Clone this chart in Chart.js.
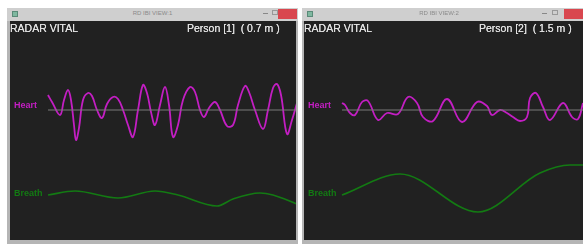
<!DOCTYPE html>
<html>
<head>
<meta charset="utf-8">
<script src="https://cdn.jsdelivr.net/npm/chart.js@4/dist/chart.umd.min.js"></script>
<style>
  html, body { margin:0; padding:0; background:#fff; width:583px; height:244px; overflow:hidden; font-family:"Liberation Sans", Arial, sans-serif; }
  .win { position:absolute; top:8px; height:236px; background:#b5b5b5; }
  .bar { position:absolute; left:0; right:0; top:0; height:13px; background:#cfcfcf; }
  .bar .ttl { position:absolute; left:0; right:0; top:2px; text-align:center; font-size:6px; color:#8a8a8a; }
  .bar .ico { position:absolute; left:5px; top:3px; width:6px; height:6px; background:#7fb8a0; border:1px solid #5a8a78; box-sizing:border-box; }
  .bar .min { position:absolute; top:5px; width:5px; height:1px; background:#888; }
  .bar .max { position:absolute; top:2px; width:6px; height:5px; border:1px solid #999; box-sizing:border-box; }
  .bar .cls { position:absolute; top:1px; width:19px; height:10px; background:#d9474f; }
  .body { position:absolute; top:13px; background:#212121; }
  .hdr { position:absolute; top:1px; font-size:10.5px; color:#e2e2e2; white-space:pre; text-shadow:0 0 0.6px #e2e2e2; }
  canvas { position:absolute; left:0; top:0; }
</style>
</head>
<body>
<div class="win" style="left:7px; width:291px;">
  <div class="bar"><div class="ico"></div><div class="ttl">RD IBI VIEW:1</div>
    <div class="min" style="left:256px"></div><div class="max" style="left:265px"></div><div class="cls" style="left:271px"></div></div>
  <div class="body" style="left:3px; width:286px; height:219px;">
    <canvas id="c1" width="286" height="219"></canvas>
    <div class="hdr" style="left:0px;">RADAR VITAL</div>
    <div class="hdr" style="left:177px;">Person [1]  ( 0.7 m )</div>
  </div>
</div>
<div class="win" style="left:302px; width:290px;">
  <div class="bar"><div class="ico"></div><div class="ttl" style="right:16px">RD IBI VIEW:2</div>
    <div class="min" style="left:240px"></div><div class="max" style="left:250px"></div><div class="cls" style="left:262px"></div></div>
  <div class="body" style="left:2px; width:288px; height:219px;">
    <canvas id="c2" width="279" height="219"></canvas>
    <div class="hdr" style="left:0px;">RADAR VITAL</div>
    <div class="hdr" style="left:175px;">Person [2]  ( 1.5 m )</div>
  </div>
</div>
<script>
// person 1 (0.7 m)
var heart1T = [38, 42, 50, 54, 58, 61, 64, 66, 69, 73, 78, 82, 87, 92, 97, 103, 108, 113, 118, 123, 128, 133, 137,
               141, 145, 150, 155, 159, 163, 168, 173, 180, 185, 190, 194, 199, 205, 210, 217, 223, 228, 235, 239,
               245, 253, 258, 263, 267, 271, 277, 282, 287];
var heart1V = [15, 8, -5, 10, 20, 10, -15, -30, -18, 10, 17, 14, 0, -8, 6, 13, 11, 0, -15, -27, 0, 25, 17,
               -2, -15, 5, 23, 5, -27, -15, 10, 23, 18, 0, -7, 2, 8, 0, -16, -15, 5, 24, 18,
               0, -19, 0, 22, 26, 15, -24, -10, 7];
var breath1T = [38, 65, 108, 145, 168, 207, 223, 250, 263, 287];
var breath1V = [-1, 3, -4, 3, -1, -12, -5, 1, -1, -10];

// person 2 (1.5 m)
var heart2T = [38, 41, 46, 51, 58, 64, 74, 83, 94, 104, 113, 119, 129, 143, 158, 173, 183, 188, 196, 203, 209, 216, 223, 226, 232, 239, 246, 259, 268, 274, 279];
var heart2V = [7, 5, -3, -5, 8, 9, -10, -3, -4, 13, 7, -7, -11, 11, -12, 8, 4, -5, 0, -3, -7, -11, -7, 12, 17, 3, -10, 7, -7, -9, 7];
var breath2T = [38, 96, 174, 236, 266, 279];
var breath2V = [-1, 20, -18, 21, 29, 29];

var MAGENTA = '#c31ec3';
var GREEN = '#137a13';

function pts(t, v) {
    return t.map(function (x, i) { return { x: x, y: v[i] }; });
}

var labelPlugin = {
    id: 'sigLabels',
    afterDraw: function (chart) {
        var ctx = chart.ctx;
        ctx.save();
        ctx.font = 'bold 9px "Liberation Sans", Arial, sans-serif';
        ctx.textBaseline = 'middle';
        ctx.fillStyle = MAGENTA;
        ctx.fillText('Heart', 4, chart.scales.yHeart.getPixelForValue(0) - 4);
        ctx.fillStyle = GREEN;
        ctx.fillText('Breath', 4, chart.scales.yBreath.getPixelForValue(0));
        ctx.restore();
    }
};

function drawVital(id, heartT, heartV, breathT, breathV, xmax) {
    var ctx = document.getElementById(id).getContext('2d');
    return new Chart(ctx, {
        type: 'line',
        data: {
            datasets: [{
                label: 'Base',
                data: [{ x: heartT[0], y: 0 }, { x: xmax, y: 0 }],
                yAxisID: 'yHeart',
                borderColor: '#7a7a7a',
                borderWidth: 1,
                pointRadius: 0
            }, {
                label: 'Heart',
                data: pts(heartT, heartV),
                yAxisID: 'yHeart',
                borderColor: MAGENTA,
                borderWidth: 1.8,
                pointRadius: 0,
                tension: 0.4
            }, {
                label: 'Breath',
                data: pts(breathT, breathV),
                yAxisID: 'yBreath',
                borderColor: GREEN,
                borderWidth: 1.6,
                pointRadius: 0,
                cubicInterpolationMode: 'monotone'
            }]
        },
        options: {
            responsive: false,
            animation: false,
            layout: { padding: 0 },
            plugins: { legend: { display: false }, tooltip: { enabled: false } },
            scales: {
                x: { type: 'linear', min: 0, max: xmax, display: false },
                yHeart: { type: 'linear', min: -130, max: 89, display: false },
                yBreath: { type: 'linear', min: -46, max: 173, display: false }
            }
        },
        plugins: [labelPlugin]
    });
}

drawVital('c1', heart1T, heart1V, breath1T, breath1V, 286);
drawVital('c2', heart2T, heart2V, breath2T, breath2V, 279);
</script>
</body>
</html>
